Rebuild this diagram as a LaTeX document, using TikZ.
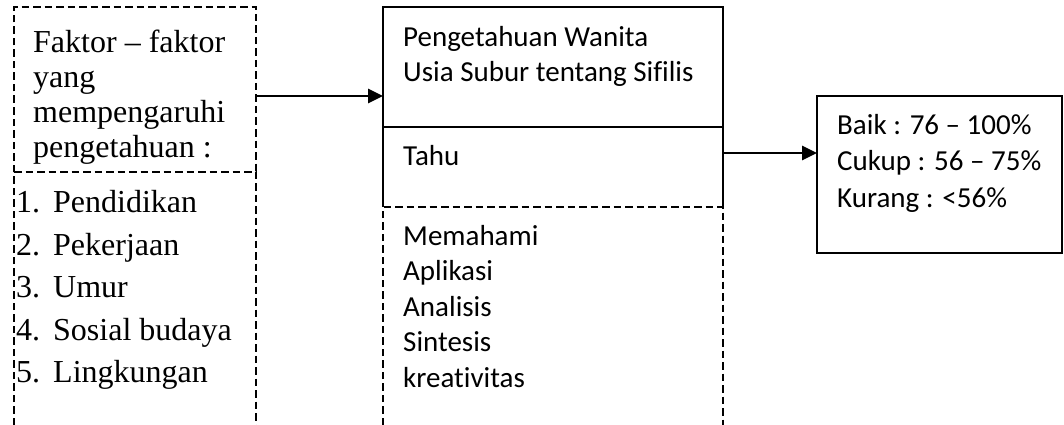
\documentclass[tikz,border=0pt]{standalone}
\usepackage{fontspec}
\setmainfont{Liberation Serif}
\newfontfamily\calfont[Ligatures=NoCommon]{Carlito}
\usetikzlibrary{arrows.meta}
\begin{document}
\begin{tikzpicture}[x=1pt,y=-1pt,
  solidline/.style={line width=2pt},
  dsh/.style={line width=1.5pt, dash pattern=on 7.5pt off 4pt},
  arr/.style={line width=2.6pt,-{Triangle[length=15pt,width=14pt]}},
  box/.style={rectangle, inner sep=0pt, outer sep=0pt, anchor=north west},
  serif/.style={inner sep=0pt, anchor=base west, font=\fontsize{32}{38}\selectfont},
  sans/.style={inner sep=0pt, anchor=base west, font=\calfont\fontsize{29}{35}\selectfont}]
\useasboundingbox (0,0) rectangle (1064,425);
\clip (0,0) rectangle (1064,425);
% left boxes
\node[box, minimum width=242pt, minimum height=165pt] (fk) at (14,7) {};
\node[box, minimum width=242pt, minimum height=253pt] (ls) at (14,172) {};
\draw[dsh] (fk.south west) -- (fk.north west) -- (fk.north east) -- (fk.south east);
\draw[dsh] (ls.south west) -- (ls.north west) -- (ls.north east) -- (ls.south east);
% middle boxes
\node[box, draw, solidline, minimum width=340pt, minimum height=120pt] (pk) at (383,7) {};
\node[box, minimum width=340pt, minimum height=80pt] (tb) at (383,127) {};
\draw[solidline] (tb.south west) -- (tb.north west) (tb.north east) -- (tb.south east);
\node[box, minimum width=340pt, minimum height=218pt] (mm) at (383,207) {};
\draw[dsh] (mm.south west) -- (mm.north west) -- (mm.north east) -- (mm.south east);
% right box
\node[box, draw, solidline, minimum width=245pt, minimum height=157pt] (rk) at (817,96) {};
% arrows
\coordinate (a1) at ([yshift=-6.5pt]fk.east);
\draw[arr] (a1) -- (a1 -| pk.west);
\coordinate (a2) at ([yshift=14pt]tb.east);
\draw[arr] (a2) -- (a2 -| rk.west);
% left texts
\node[serif] (f1) at (33,53) {Faktor – faktor};
\node[serif] (f2) at (33,88) {yang};
\node[serif] (f3) at (33,122) {mempengaruhi};
\node[serif] (f4) at (33,157) {pengetahuan :};
\node[serif] (n1) at (16,212) {1.};
\node[serif] (t1) at (53,212) {Pendidikan};
\node[serif] (n2) at (16,255) {2.};
\node[serif] (t2) at (53,255) {Pekerjaan};
\node[serif] (n3) at (16,297) {3.};
\node[serif] (t3) at (53,297) {Umur};
\node[serif] (n4) at (16,340) {4.};
\node[serif] (t4) at (53,340) {Sosial budaya};
\node[serif] (n5) at (16,382) {5.};
\node[serif] (t5) at (53,382) {Lingkungan};
% middle texts
\node[sans] (p1) at (403,47) {Pengetahuan Wanita};
\node[sans] (p2) at (403,82) {Usia Subur tentang Sifilis};
\node[sans] (th) at (403,165) {Tahu};
\node[sans] (m1) at (403,245) {Memahami};
\node[sans] (m2) at (403,280.5) {Aplikasi};
\node[sans] (m3) at (403,316) {Analisis};
\node[sans] (m4) at (403,351.5) {Sintesis};
\node[sans] (m5) at (403,387) {kreativitas};
% right texts
\node[sans] (r1) at (837,134) {Baik : 76 – 100\%};
\node[sans] (r2) at (837,170) {Cukup : 56 – 75\%};
\node[sans] (r3) at (837,207) {Kurang : <56\%};
\end{tikzpicture}
\end{document}
